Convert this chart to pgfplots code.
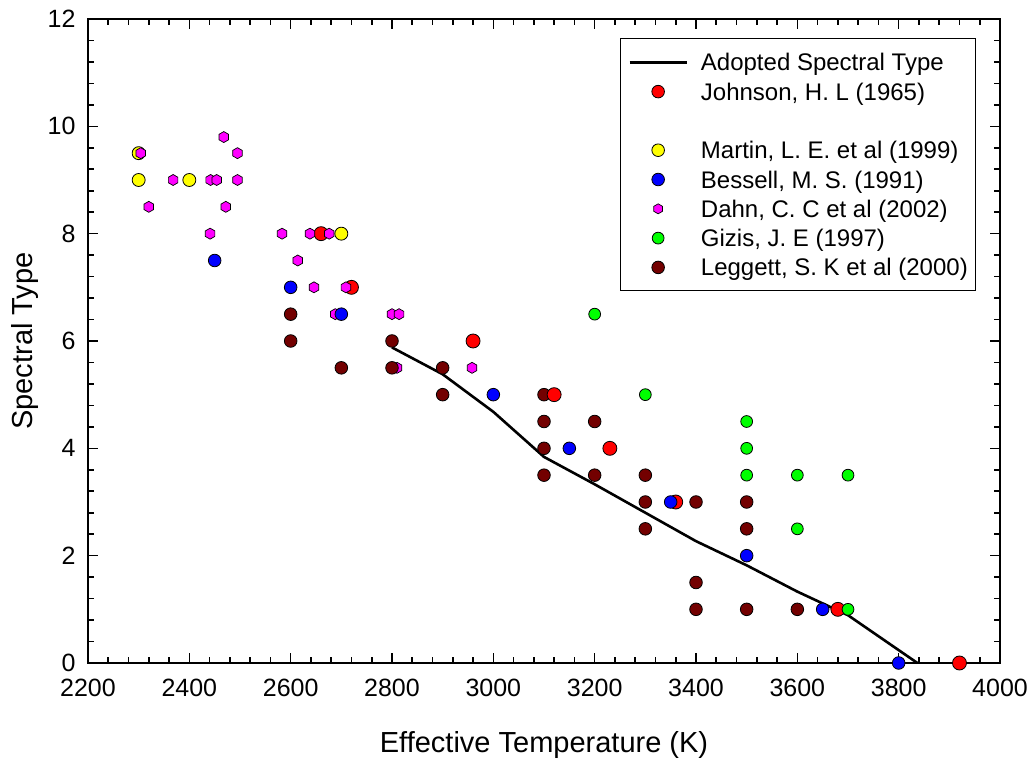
\documentclass[border=0pt]{standalone}
\usepackage{pgfplots}
\pgfplotsset{compat=1.18}
\usepackage{fontspec}
\setmainfont{Liberation Sans}
\usetikzlibrary{plotmarks}

\definecolor{cRed}{RGB}{255,0,0}
\definecolor{cYel}{RGB}{255,255,0}
\definecolor{cBlue}{RGB}{0,0,255}
\definecolor{cMag}{RGB}{255,0,255}
\definecolor{cGreen}{RGB}{0,255,0}
\definecolor{cMaroon}{RGB}{115,0,0}

\pgfdeclareplotmark{hexagon*}{%
  \pgfpathmoveto{\pgfqpointpolar{90}{\pgfplotmarksize}}%
  \pgfpathlineto{\pgfqpointpolar{150}{\pgfplotmarksize}}%
  \pgfpathlineto{\pgfqpointpolar{210}{\pgfplotmarksize}}%
  \pgfpathlineto{\pgfqpointpolar{270}{\pgfplotmarksize}}%
  \pgfpathlineto{\pgfqpointpolar{330}{\pgfplotmarksize}}%
  \pgfpathlineto{\pgfqpointpolar{30}{\pgfplotmarksize}}%
  \pgfpathclose
  \pgfusepathqfillstroke}

\pgfplotsset{
  johnson/.style={only marks, mark=*, mark size=7pt, mark options={fill=cRed, draw=black, line width=0.8pt}},
  martin/.style={only marks, mark=*, mark size=6.5pt, mark options={fill=cYel, draw=black, line width=0.8pt}},
  bessell/.style={only marks, mark=*, mark size=6.3pt, mark options={fill=cBlue, draw=black, line width=0.8pt}},
  dahn/.style={only marks, mark=hexagon*, mark size=5.5pt, mark options={fill=cMag, draw=black, line width=0.7pt}},
  gizis/.style={only marks, mark=*, mark size=5.9pt, mark options={fill=cGreen, draw=black, line width=0.8pt}},
  leggett/.style={only marks, mark=*, mark size=6.3pt, mark options={fill=cMaroon, draw=black, line width=0.8pt}},
}

\begin{document}
\begin{tikzpicture}
\path[use as bounding box] (-88pt,-96pt) rectangle (947pt,663pt);
\begin{axis}[
  at={(0pt,0pt)}, anchor=south west,
  scale only axis, width=912pt, height=644pt,
  xmin=2200, xmax=4000, ymin=0, ymax=12,
  xtick={2200,2400,...,4000}, ytick={0,2,...,12},
  minor x tick num=4, minor y tick num=4,
  clip=false,
  axis line style={line width=2pt},
  every tick/.style={black, line width=1.6pt},
  major tick length=10pt, minor tick length=6pt,
  tick align=inside,
  /pgf/number format/1000 sep={},
  /pgf/number format/assume math mode=true,
  tick label style={font=\fontsize{25}{30}\selectfont},
  xticklabel style={yshift=-13pt},
  yticklabel style={xshift=-9pt},
  xlabel={Effective Temperature (K)},
  ylabel={Spectral Type},
  every axis x label/.style={at={(axis description cs:0.5,-0.127)}, anchor=center, font=\fontsize{29}{34}\selectfont},
  every axis y label/.style={at={(axis description cs:-0.069,0.5)}, rotate=90, anchor=center, font=\fontsize{29}{34}\selectfont},
  legend image code/.code={\draw[mark repeat=2,mark phase=2,#1] plot coordinates {(0pt,0pt) (28.5pt,0pt) (57pt,0pt)};},
  legend style={at={(0.974,0.970)}, anchor=north east, draw=black, line width=1pt,
    font=\fontsize{24}{29}\selectfont,
    inner xsep=8pt, inner ysep=10pt,
    nodes={inner sep=0pt, text height=22pt, text depth=5pt, line width=0.8pt},
    row sep=2.3pt,
    /tikz/every odd column/.style={column sep=13pt}},
  legend cell align=left,
]

% adopted spectral type
\addplot[black, line width=2.6pt, forget plot] coordinates {
 (2800,5.88) (2900,5.38) (3000,4.68) (3100,3.84) (3200,3.33) (3300,2.80)
 (3400,2.27) (3500,1.82) (3600,1.33) (3700,0.89) (3800,0.24) (3837,0)
};

% Dahn point lying behind Leggett
\addplot[dahn, forget plot] coordinates {(2810,5.5)};

% Leggett, S. K et al (2000)
\addplot[leggett, forget plot] coordinates {
 (2600,6.5) (2600,6) (2700,5.5) (2800,6) (2800,5.5) (2900,5.5) (2900,5)
 (3100,5) (3100,4.5) (3100,4) (3100,3.5) (3200,4.5) (3200,3.5)
 (3300,3.5) (3300,3) (3300,2.5) (3400,3) (3400,1.5) (3400,1)
 (3500,3) (3500,2.5) (3500,1) (3600,1)
};

% Johnson, H. L (1965)
\addplot[johnson, forget plot] coordinates {
 (2660,8) (2720,7) (2960,6) (3120,5) (3230,4) (3360,3) (3680,1) (3920,0)
};

% Martin, L. E. et al (1999)
\addplot[martin, forget plot] coordinates {
 (2300,9.5) (2300,9) (2400,9) (2700,8)
};

% Dahn, C. C et al (2002)
\addplot[dahn, forget plot] coordinates {
 (2304,9.5) (2468,9.8) (2495,9.5) (2368,9) (2442,9) (2454,9) (2495,9)
 (2320,8.5) (2472,8.5) (2441,8) (2583,8) (2638,8) (2676,8) (2614,7.5)
 (2646,7) (2709,7) (2688,6.5) (2800,6.5) (2814,6.5) (2958,5.5)
};

% Bessell, M. S. (1991)
\addplot[bessell, forget plot] coordinates {
 (2450,7.5) (2600,7) (2700,6.5) (3000,5) (3150,4) (3350,3) (3500,2) (3650,1) (3800,0)
};

% Gizis, J. E (1997)
\addplot[gizis, forget plot] coordinates {
 (3200,6.5) (3300,5) (3500,4.5) (3500,4) (3500,3.5) (3600,3.5) (3700,3.5) (3600,2.5) (3700,1)
};

\addlegendimage{black, line width=2.6pt}
\addlegendentry{Adopted Spectral Type}
\addlegendimage{only marks, mark=*, mark size=6.3pt, mark options={fill=cRed, draw=black, line width=0.8pt}}
\addlegendentry{Johnson, H. L (1965)}
\addlegendimage{empty legend}
\addlegendentry{}
\addlegendimage{only marks, mark=*, mark size=6.3pt, mark options={fill=cYel, draw=black, line width=0.8pt}}
\addlegendentry{Martin, L. E. et al (1999)}
\addlegendimage{only marks, mark=*, mark size=6.3pt, mark options={fill=cBlue, draw=black, line width=0.8pt}}
\addlegendentry{Bessell, M. S. (1991)}
\addlegendimage{only marks, mark=hexagon*, mark size=5pt, mark options={fill=cMag, draw=black, line width=0.7pt}}
\addlegendentry{Dahn, C. C et al (2002)}
\addlegendimage{only marks, mark=*, mark size=5.9pt, mark options={fill=cGreen, draw=black, line width=0.8pt}}
\addlegendentry{Gizis, J. E (1997)}
\addlegendimage{only marks, mark=*, mark size=6.3pt, mark options={fill=cMaroon, draw=black, line width=0.8pt}}
\addlegendentry{Leggett, S. K et al (2000)}
\end{axis}
\end{tikzpicture}
\end{document}
